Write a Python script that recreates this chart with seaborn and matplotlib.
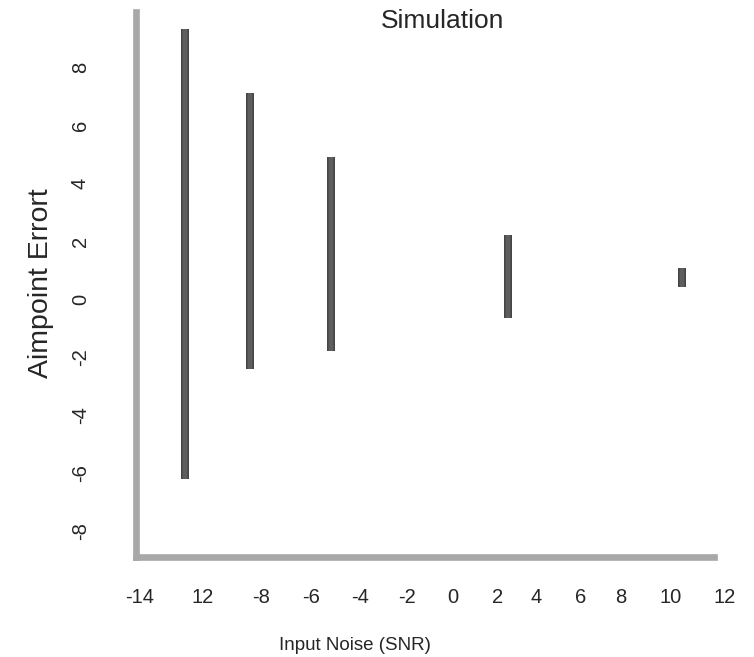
import pandas as pd
import matplotlib.pyplot as plt
import matplotlib.patheffects as pe
import seaborn as sns

# values
snr = [-12.0, -9.1, -5.5, 2.35, 10.1]
err_low = [-6.2, -2.4, -1.8, -0.65, 0.41]
err_high = [9.3, 7.1, 4.9, 2.2, 1.07]

# tick labels sit a little unevenly in the original
x_ticks = [-14, -11.2, -8.6, -6.4, -4.2, -2.1, -0.1, 1.9, 3.6, 5.6, 7.4, 9.6, 12]
x_labels = ["-14", "12", "-8", "-6", "-4", "-2", "0", "2", "4", "6", "8", "10", "12"]
y_ticks = [-8, -6, -4, -2, 0, 2, 4, 6, 8]

rows = []
for i, (x, lo, hi) in enumerate(zip(snr, err_low, err_high)):
    rows.append({"bar": i, "snr": x, "err": lo})
    rows.append({"bar": i, "snr": x, "err": hi})
df = pd.DataFrame(rows)

sns.set_style("white")
plt.rcParams["font.family"] = ["Liberation Sans", "DejaVu Sans"]

fig = plt.figure(figsize=(7.54, 6.57), dpi=100)
ax = fig.add_axes([0.180, 0.152, 0.781, 0.830])

sns.lineplot(data=df, x="snr", y="err", units="bar", estimator=None,
             color="#5e5e5e", linewidth=4, ax=ax, legend=False,
             solid_capstyle="butt",
             path_effects=[pe.Stroke(linewidth=5.5, foreground="#1e1e1e"), pe.Normal()])

ax.set_xticks(x_ticks)
ax.set_xticklabels(x_labels)
ax.set_yticks(y_ticks)
ax.set_yticklabels([str(v) for v in y_ticks], rotation=90, va="center")
ax.set_xlim(-14.18, 12.0)
ax.set_ylim(-8.9, 9.9)
ax.tick_params(axis="x", length=0, pad=22, labelsize=14.5)
ax.tick_params(axis="y", length=0, pad=33, labelsize=14.5)

for s in ["top", "right"]:
    ax.spines[s].set_visible(False)
for s in ["left", "bottom"]:
    ax.spines[s].set_color("#a8a8a8")
    ax.spines[s].set_linewidth(4.8)
ax.spines["bottom"].set_bounds(-14.18, 11.55)

ax.set_xlabel("")
ax.set_ylabel("")
fig.text(0.471, 1 - 645 / 657, "Input Noise (SNR)", ha="center", va="center", fontsize=13.5)
fig.text(41 / 754, 1 - 283 / 657, "Aimpoint Errort", ha="center", va="center",
         rotation=90, fontsize=20.5)
fig.text(443 / 754, 1 - 21 / 657, "Simulation", ha="center", va="center", fontsize=19)

fig.savefig("out.png", dpi=100)
